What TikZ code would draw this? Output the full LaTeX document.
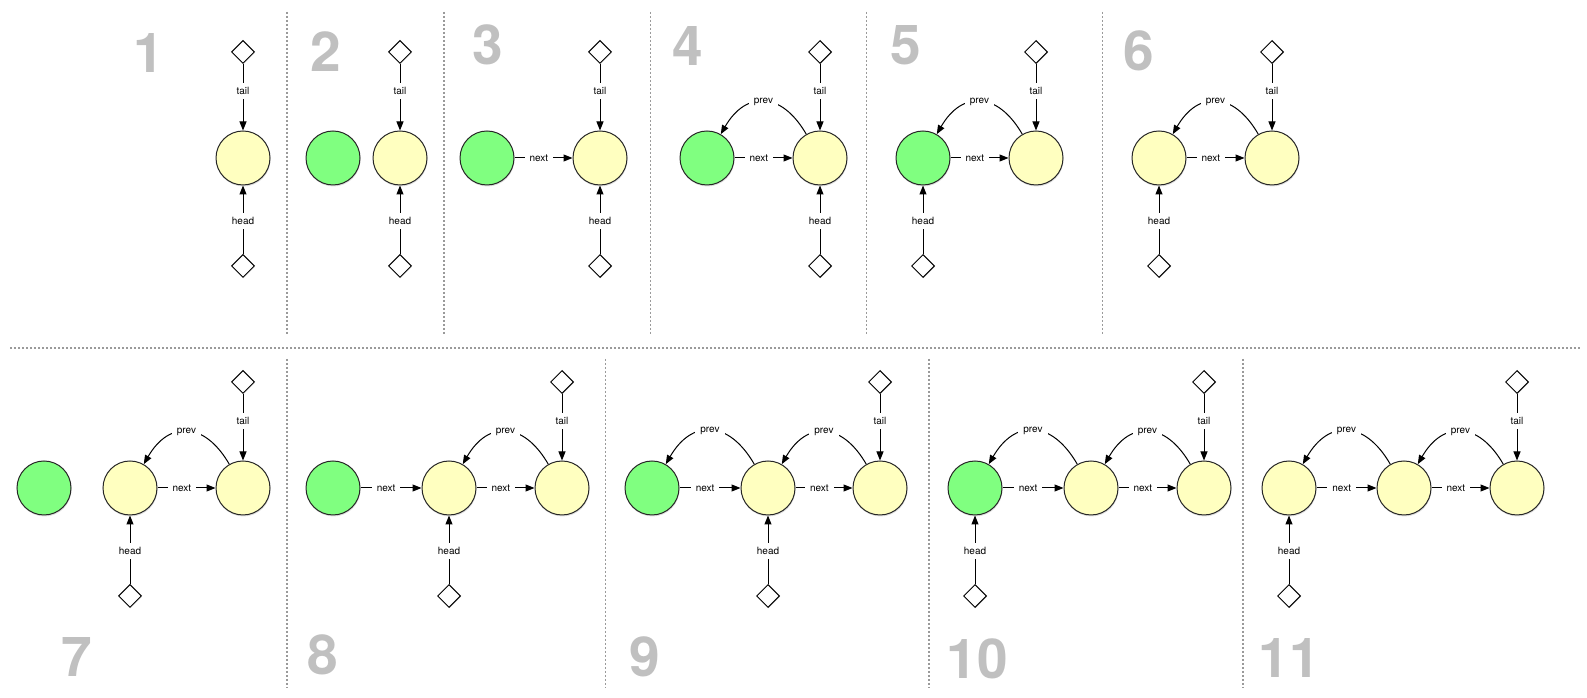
\documentclass[tikz,border=0pt]{standalone}
\usepackage{fontspec}
\setsansfont{TeX Gyre Heros}
\usetikzlibrary{arrows.meta,positioning,shapes.geometric,shadows}
\definecolor{cellyellow}{HTML}{FFFFC0}
\definecolor{cellgreen}{HTML}{80FF80}
\definecolor{stepgray}{HTML}{C0C0C0}
\definecolor{divgray}{HTML}{9A9A9A}
\begin{document}
\begin{tikzpicture}[x=1pt,y=1pt,line width=1pt,
	cell/.style={circle,draw=black!85,fill=cellyellow,minimum size=54pt,inner sep=0pt,
		drop shadow={shadow xshift=.5pt,shadow yshift=-1.5pt,opacity=.25}},
	newcell/.style={cell,fill=cellgreen},
	ptr/.style={diamond,draw,fill=white,minimum width=23pt,minimum height=23pt,inner sep=0pt,
		drop shadow={shadow xshift=.5pt,shadow yshift=-1pt,opacity=.2}},
	lbl/.style={fill=white,inner xsep=5pt,inner ysep=4.5pt,font=\sffamily\fontsize{10}{12}\selectfont},
	link/.style={-{Triangle[length=9pt,width=7pt]}},
	stepno/.style={anchor=base,text=stepgray,font=\sffamily\bfseries\fontsize{55}{60}\selectfont},
	divider/.style={divgray,line width=1.3pt,dash pattern=on 2pt off 2pt}]
	\useasboundingbox (0,0) rectangle (1587,698);
	% top row
	\node[cell] (p1a) at (243,540) {};
	\node[newcell] (p2a) at (333,540) {};
	\node[cell] (p2b) at (400,540) {};
	\node[newcell] (p3a) at (487,540) {};
	\node[cell] (p3b) at (600,540) {};
	\node[newcell] (p4a) at (707,540) {};
	\node[cell] (p4b) at (820,540) {};
	\node[newcell] (p5a) at (923,540) {};
	\node[cell] (p5b) at (1036,540) {};
	\node[cell] (p6a) at (1159,540) {};
	\node[cell] (p6b) at (1272,540) {};
	% bottom row
	\node[newcell] (p7a) at (44,210) {};
	\node[cell] (p7b) at (130,210) {};
	\node[cell] (p7c) at (243,210) {};
	\node[newcell] (p8a) at (333,210) {};
	\node[cell] (p8b) at (449,210) {};
	\node[cell] (p8c) at (562,210) {};
	\node[newcell] (p9a) at (652,210) {};
	\node[cell] (p9b) at (768,210) {};
	\node[cell] (p9c) at (880,210) {};
	\node[newcell] (p10a) at (975,210) {};
	\node[cell] (p10b) at (1091,210) {};
	\node[cell] (p10c) at (1204,210) {};
	\node[cell] (p11a) at (1289,210) {};
	\node[cell] (p11b) at (1404,210) {};
	\node[cell] (p11c) at (1517,210) {};
	\foreach \u/\v in {p3a/p3b,p4a/p4b,p5a/p5b,p6a/p6b,p7b/p7c,p8a/p8b,p8b/p8c,p9a/p9b,p9b/p9c,p10a/p10b,p10b/p10c,p11a/p11b,p11b/p11c}
		\draw[link] (\u) -- node[lbl,pos=.42]{next} (\v);
	\foreach \u/\v in {p4b/p4a,p5b/p5a,p6b/p6a,p7c/p7b,p8c/p8b,p9b/p9a,p9c/p9b,p10b/p10a,p10c/p10b,p11b/p11a,p11c/p11b}
		\draw[link] (\u.120) to[out=120,in=60,looseness=1.5] node[lbl]{prev} (\v.60);
	\foreach \u in {p1a,p2b,p3b,p4b,p5b,p6b,p7c,p8c,p9c,p10c,p11c} {
		\node[ptr,above=66.5pt of \u] (t\u) {};
		\draw[link] (t\u) -- node[lbl,pos=.41]{tail} (\u);
	}
	\foreach \u in {p1a,p2b,p3b,p4b,p5a,p6a,p7b,p8b,p9b,p10a,p11a} {
		\node[ptr,below=68.5pt of \u] (h\u) {};
		\draw[link] (h\u) -- node[lbl,pos=.48]{head} (\u);
	}
	\foreach \n/\x/\y in {1/149/625,2/326/626.5,3/488/633,4/687.5/632,5/906/633,6/1139/627,7/77/21,8/322.5/23.5,9/645/21,10/977.5/19,11/1289/20}
		\node[stepno] at (\x,\y) {\n};
	\foreach \x in {287,444,650.5,866.5,1102.5} \draw[divider] (\x,686) -- (\x,364);
	\draw[divider] (10,350) -- (1581,350);
	\foreach \x in {287,605.5,929,1243} \draw[divider] (\x,339) -- (\x,10);
\end{tikzpicture}
\end{document}
